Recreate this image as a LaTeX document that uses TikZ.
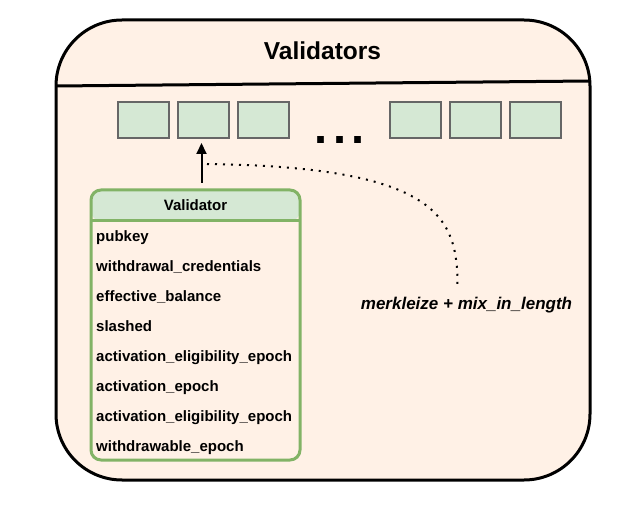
\documentclass[tikz,border=0pt]{standalone}
\usepackage{fontspec}
\setmainfont{Liberation Sans}
\usetikzlibrary{arrows.meta}
\definecolor{peach}{HTML}{FFF1E6}
\definecolor{mint}{HTML}{D5E8D4}
\definecolor{leaf}{HTML}{82B366}
\definecolor{greyline}{HTML}{666666}
\begin{document}
\begin{tikzpicture}[x=1pt,y=-1pt,
  cell/.style={draw=greyline,line width=2pt,fill=mint},
  rowtxt/.style={anchor=base west,inner sep=0pt,font=\fontsize{15}{18}\selectfont\bfseries},
  conn/.style={line width=2pt},
]
\useasboundingbox (0,0) rectangle (640,510);
% outer container
\draw[line width=3pt,fill=peach,rounded corners=66pt] (56,20) rectangle (590,480);
\coordinate (dl) at (56,86);
\coordinate (dr) at (590,81);
\draw[line width=3pt] (dl) -- (dr);
\node[anchor=base,inner sep=0pt,font=\fontsize{24.5}{28}\selectfont\bfseries] (title) at (322.5,59.5) {Validators};
% cells
\draw[cell] (118,102) rectangle (169,138);
\draw[cell] (178,102) rectangle (229,138);
\draw[cell] (238,102) rectangle (289,138);
\draw[cell] (390,102) rectangle (441,138);
\draw[cell] (450,102) rectangle (501,138);
\draw[cell] (510,102) rectangle (561,138);
\coordinate (c2) at (201.5,143);
\node[anchor=base,inner sep=0pt,font=\fontsize{47}{50}\selectfont\bfseries] (dots) at (339.7,143.5) {.\hspace{5.3pt}.\hspace{5.3pt}.};
% validator table
\fill[mint,rounded corners=10pt] (91,221) -- (91,190) -- (300,190) -- (300,221) -- cycle;
\draw[leaf,line width=3pt] (91,221) -- (300,221);
\draw[leaf,line width=3pt,rounded corners=10pt] (91,190) rectangle (300,460);
\node[anchor=base,inner sep=0pt,font=\fontsize{15}{18}\selectfont\bfseries] (vhead) at (195.5,210.4) {Validator};
\node[rowtxt] (r1) at (96,241.3) {pubkey};
\node[rowtxt] (r2) at (96,271.3) {withdrawal\_credentials};
\node[rowtxt] (r3) at (96,301.3) {effective\_balance};
\node[rowtxt] (r4) at (96,331.3) {slashed};
\node[rowtxt] (r5) at (96,361.3) {activation\_eligibility\_epoch};
\node[rowtxt] (r6) at (96,391.3) {activation\_epoch};
\node[rowtxt] (r7) at (96,421.3) {activation\_eligibility\_epoch};
\node[rowtxt] (r8) at (96,451.3) {withdrawable\_epoch};
% arrow
\coordinate (astart) at (201.5,183);
\draw[conn,-{Triangle[length=11pt,width=10pt]}] (astart) -- (c2);
% dotted curve
\coordinate (ds) at (207,164);
\coordinate (de) at (457.5,286);
\draw[line width=2pt,dash pattern=on 2pt off 6pt] (ds) .. controls (441,167) and (457.5,219) .. (de);
\node[anchor=base,inner sep=0pt,font=\fontsize{17}{20}\selectfont\bfseries\itshape] (lbl) at (466.5,310) {merkleize + mix\_in\_length};
\end{tikzpicture}
\end{document}
